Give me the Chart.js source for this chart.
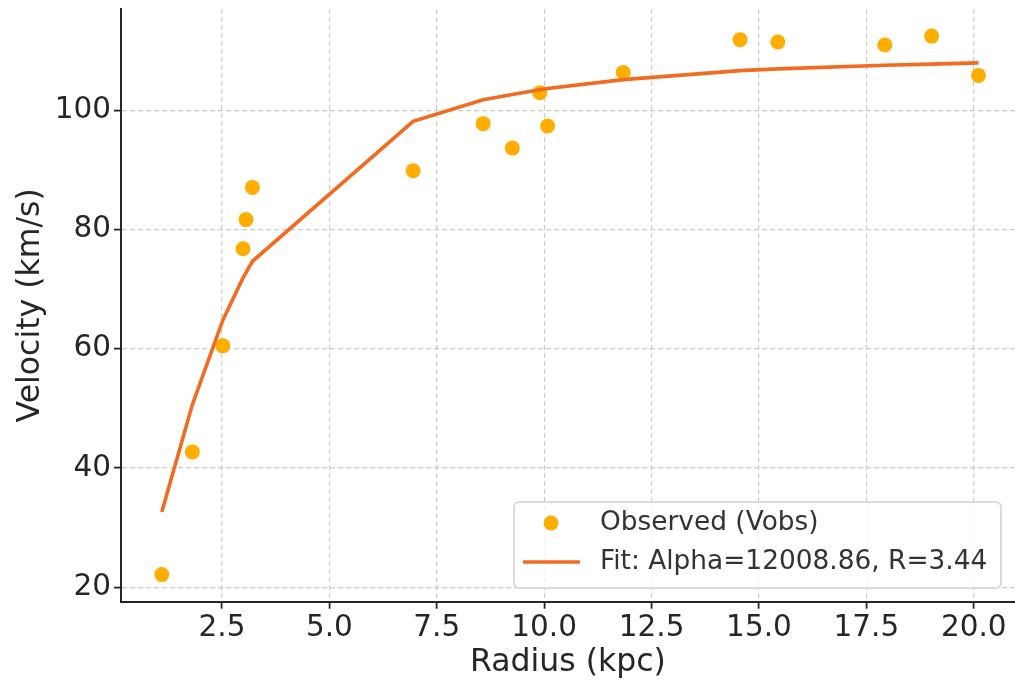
<!DOCTYPE html>
<html>
<head>
<meta charset="utf-8">
<script src="https://cdn.jsdelivr.net/npm/chart.js@4"></script>
<style>
  html, body { margin: 0; padding: 0; background: #fff; }
  #chart { display: block; }
</style>
</head>
<body>
<canvas id="chart" width="1015" height="686"></canvas>
<script>
// values
const radius = [1.10, 1.81, 2.52, 2.99, 3.06, 3.21, 6.95, 8.58, 9.26, 9.90, 10.08, 11.84, 14.56, 15.44, 17.93, 19.02, 20.11];
const vObs = [22.1, 42.7, 60.5, 76.8, 81.7, 87.1, 89.9, 97.8, 93.7, 103.0, 97.4, 106.4, 111.9, 111.5, 111.0, 112.5, 105.9];
const vFit = [32.6, 50.6, 64.8, 71.9, 72.8, 74.7, 98.2, 101.8, 102.7, 103.5, 103.7, 105.2, 106.7, 107.0, 107.6, 107.8, 108.0];
const xTicks = [2.5, 5.0, 7.5, 10.0, 12.5, 15.0, 17.5, 20.0];
const yTicks = [20, 40, 60, 80, 100];

const obsLabel = 'Observed (Vobs)';
const fitLabel = 'Fit: Alpha=12008.86, R=3.44';

const FONT = "'DejaVu Sans', sans-serif";
const DOT = '#FFAE00';
const LINE = '#F26B21';
const INK = '#262626';

// matplotlib-style legend box sitting inside the plot
const boxLegend = {
  id: 'boxLegend',
  afterDatasetsDraw(chart) {
    const ctx = chart.ctx;
    const x = 514, y = 502, w = 487, h = 86;
    ctx.save();
    ctx.beginPath();
    ctx.roundRect(x, y, w, h, 5);
    ctx.fillStyle = 'rgba(255,255,255,0.8)';
    ctx.fill();
    ctx.lineWidth = 1.6;
    ctx.strokeStyle = '#d2d2d2';
    ctx.stroke();

    ctx.fillStyle = DOT;
    ctx.beginPath();
    ctx.arc(551, 523, 7.5, 0, Math.PI * 2);
    ctx.fill();

    ctx.strokeStyle = LINE;
    ctx.lineWidth = 3.6;
    ctx.beginPath();
    ctx.moveTo(523, 562);
    ctx.lineTo(580, 562);
    ctx.stroke();

    ctx.fillStyle = '#333';
    ctx.font = '26.4px ' + FONT;
    ctx.textBaseline = 'middle';
    ctx.fillText(obsLabel, 600, 523);
    ctx.fillText(fitLabel, 600, 562);
    ctx.restore();
  }
};

function fixedTicks(list) {
  return (scale) => { scale.ticks = list.map(v => ({ value: v })); };
}

new Chart(document.getElementById('chart'), {
  type: 'scatter',
  data: {
    datasets: [
      {
        label: fitLabel,
        type: 'line',
        data: radius.map((r, i) => ({ x: r, y: vFit[i] })),
        borderColor: LINE,
        borderWidth: 3.6,
        pointRadius: 0,
        fill: false,
        tension: 0,
        order: 0
      },
      {
        label: obsLabel,
        data: radius.map((r, i) => ({ x: r, y: vObs[i] })),
        backgroundColor: DOT,
        borderWidth: 0,
        pointRadius: 7.5,
        order: 1
      }
    ]
  },
  options: {
    responsive: false,
    animation: false,
    layout: { autoPadding: false, padding: { top: 9, left: 0, right: 0, bottom: 0 } },
    plugins: {
      legend: { display: false },
      tooltip: { enabled: false }
    },
    scales: {
      x: {
        type: 'linear',
        min: 0.15,
        max: 20.96,
        afterBuildTicks: fixedTicks(xTicks),
        afterFit: (s) => { s.height = 84.3; s.paddingLeft = 0; s.paddingRight = 0; s.paddingTop = 0; s.paddingBottom = 0; },
        ticks: {
          padding: 2,
          color: INK,
          font: { family: FONT, size: 29.5 },
          callback: (v) => Number(v).toFixed(1),
          maxRotation: 0,
          autoSkip: false
        },
        grid: { color: '#cccccc', lineWidth: 1.2, tickLength: 7, tickColor: INK, tickWidth: 1.8, tickBorderDash: [] },
        border: { display: true, color: INK, width: 2, dash: [5, 3] },
        title: {
          display: true,
          text: 'Radius (kpc)',
          color: INK,
          font: { family: FONT, size: 31.5 },
          padding: { top: 0, bottom: 4 }
        }
      },
      y: {
        min: 17.55,
        max: 117.05,
        afterBuildTicks: fixedTicks(yTicks),
        afterFit: (s) => { s.width = 121; s.paddingLeft = 0; s.paddingRight = 0; s.paddingTop = 0; s.paddingBottom = 0; },
        ticks: {
          padding: 3,
          color: INK,
          font: { family: FONT, size: 29.5 },
          autoSkip: false
        },
        grid: { color: '#cccccc', lineWidth: 1.2, tickLength: 7, tickColor: INK, tickWidth: 1.8, tickBorderDash: [] },
        border: { display: true, color: INK, width: 2, dash: [5, 3] },
        title: {
          display: true,
          text: 'Velocity (km/s)',
          color: INK,
          font: { family: FONT, size: 31.5 },
          padding: { top: 12, bottom: 0 }
        }
      }
    }
  },
  plugins: [boxLegend]
});
</script>
</body>
</html>
